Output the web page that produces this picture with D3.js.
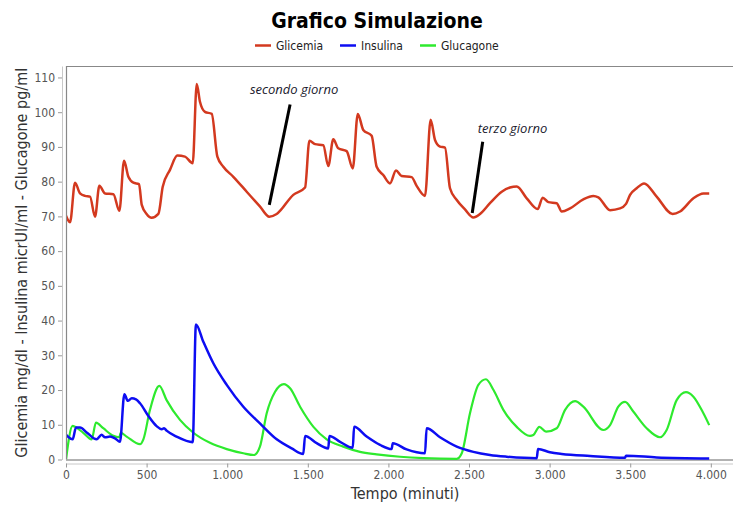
<!DOCTYPE html>
<html>
<head>
<meta charset="utf-8">
<script src="https://cdn.jsdelivr.net/npm/d3@7"></script>
<style>
  html, body { margin: 0; padding: 0; background: #fff; }
  svg { display: block; }
</style>
</head>
<body>
<div id="chart"></div>
<script>
// ---------------- DATA ----------------
const title = "Grafico Simulazione";
const seriesNames = ["Glicemia", "Insulina", "Glucagone"];
const xLabel = "Tempo (minuti)";
const yLabel = "Glicemia mg/dl - Insulina micrUI/ml - Glucagone pg/ml";
const xTicks = [0, 500, 1000, 1500, 2000, 2500, 3000, 3500, 4000];
const yTicks = [0, 10, 20, 30, 40, 50, 60, 70, 80, 90, 100, 110];

// Glicemia (mg/dl)
const glicemiaT = [0, 25, 56, 87, 118, 149, 180, 207, 242, 294, 331, 360, 387, 418, 453, 470, 500, 531, 573, 600, 645, 691, 738, 786, 811, 831, 862, 904, 939, 976, 1038, 1121, 1204, 1261, 1307, 1410, 1483, 1510, 1545, 1596, 1627, 1658, 1689, 1741, 1779, 1810, 1844, 1896, 1927, 1968, 2010, 2047, 2082, 2144, 2176, 2227, 2262, 2289, 2320, 2351, 2382, 2424, 2475, 2527, 2568, 2630, 2703, 2754, 2796, 2858, 2926, 2957, 2992, 3044, 3075, 3127, 3209, 3271, 3302, 3375, 3437, 3474, 3499, 3540, 3586, 3664, 3763, 3809, 3892, 3954, 3990];
const glicemiaV = [70.2, 68.3, 79.7, 76.6, 75.9, 75.7, 69.9, 78.8, 76.6, 76.4, 71.6, 86.0, 81.4, 79.7, 79.3, 73.3, 70.7, 69.6, 70.7, 78.5, 83.4, 87.5, 87.2, 85.3, 108.1, 103.0, 100.1, 99.5, 87.2, 84.3, 81.4, 77.1, 72.8, 69.9, 70.7, 76.2, 78.3, 91.8, 90.8, 90.5, 84.5, 92.2, 89.6, 88.8, 83.8, 99.5, 94.9, 93.2, 84.3, 81.9, 79.5, 83.2, 81.6, 81.3, 78.7, 75.9, 97.8, 92.0, 90.1, 89.8, 78.1, 74.7, 72.0, 69.7, 70.7, 73.8, 77.1, 78.3, 78.6, 75.2, 72.1, 75.4, 74.1, 73.8, 71.4, 72.3, 74.9, 75.9, 75.5, 71.8, 72.3, 73.6, 76.2, 78.1, 79.5, 75.7, 70.7, 71.4, 75.2, 76.6, 76.6];

// Insulina (microUI/ml)
const insulinaT = [0, 41, 62, 87, 128, 190, 221, 242, 273, 304, 335, 362, 383, 408, 434, 459, 511, 562, 594, 608, 624, 686, 786, 806, 852, 914, 997, 1100, 1203, 1307, 1400, 1472, 1483, 1555, 1627, 1634, 1700, 1779, 1787, 1865, 1948, 2020, 2027, 2113, 2227, 2237, 2320, 2424, 2527, 2630, 2734, 2920, 2928, 3002, 3075, 3251, 3468, 3474, 3664, 3990];
const insulinaV = [7.1, 5.8, 9.2, 9.2, 7.8, 5.8, 7.1, 6.4, 6.6, 6.1, 5.1, 18.8, 16.9, 17.6, 17.3, 16.2, 12.5, 9.6, 8.7, 9.0, 8.3, 6.6, 5.0, 38.9, 33.9, 27.7, 21.5, 15.2, 10.4, 5.8, 3.2, 1.6, 6.8, 4.7, 3.2, 6.8, 5.1, 3.4, 9.4, 6.6, 4.2, 3.0, 4.7, 2.9, 1.8, 9.0, 6.4, 3.7, 2.2, 1.3, 0.8, 0.35, 3.0, 2.1, 1.6, 1.0, 0.5, 1.1, 0.6, 0.3];

// Glucagone (pg/ml)
const glucagoneT = [0, 41, 56, 107, 159, 186, 231, 294, 331, 339, 376, 459, 480, 521, 579, 624, 707, 790, 893, 997, 1100, 1166, 1203, 1245, 1297, 1352, 1390, 1452, 1535, 1617, 1720, 1824, 1927, 2072, 2217, 2424, 2455, 2506, 2558, 2605, 2652, 2713, 2796, 2878, 2899, 2936, 2978, 3044, 3096, 3158, 3209, 3333, 3375, 3426, 3468, 3519, 3602, 3685, 3726, 3788, 3846, 3892, 3954, 3990];
const glucagoneV = [0.0, 9.7, 9.4, 7.7, 5.8, 10.6, 9.0, 6.8, 6.4, 7.7, 6.6, 4.4, 5.8, 14.3, 21.2, 17.1, 11.4, 7.7, 4.8, 3.0, 1.8, 1.3, 3.7, 13.3, 19.5, 21.7, 20.5, 15.2, 9.4, 5.8, 3.7, 2.2, 1.5, 0.8, 0.4, 0.2, 1.8, 13.3, 21.5, 23.1, 20.0, 14.3, 9.4, 6.8, 7.05, 9.4, 8.0, 9.0, 14.3, 16.8, 15.2, 8.5, 9.9, 15.2, 16.6, 13.8, 9.0, 6.4, 8.5, 17.1, 19.4, 18.1, 13.3, 9.9];

// annotations: text anchor [t, v] and pointer line [t1, v1, t2, v2] in data units
const annotationTexts = ["secondo giorno", "terzo giorno"];
const annotationAnchors = [[1141, 105.2, 1261, 73.3, 1390, 102.2], [2554, 94.0, 2520, 71.0, 2585, 91.5]];

// ---------------- LAYOUT ----------------
const W = 733, H = 505;
const plot = { left: 66, top: 66, right: 745, bottom: 459.5 };
const colors = ["#d3391f", "#0d0df2", "#2eea2e"];
const FONT = "'DejaVu Sans Condensed', 'DejaVu Sans', sans-serif";

const svg = d3.select("#chart").append("svg").attr("width", W).attr("height", H);

const x = d3.scaleLinear().domain([0, 4212]).range([plot.left, plot.right]);
const y = d3.scaleLinear().domain([0, 113.3]).range([plot.bottom, plot.top]);

const locale = d3.formatLocale({ decimal: ",", thousands: ".", grouping: [3], currency: ["€", ""] });
const fmt = locale.format(",d");

// title
svg.append("text")
  .attr("x", 377).attr("y", 28)
  .attr("text-anchor", "middle")
  .attr("font-family", FONT)
  .attr("font-weight", "bold")
  .attr("font-size", 21)
  .attr("fill", "#000")
  .text(title);

// legend
const legendItems = [
  { name: seriesNames[0], c: colors[0], x: 255 },
  { name: seriesNames[1], c: colors[1], x: 340 },
  { name: seriesNames[2], c: colors[2], x: 420 }
];
const lg = svg.append("g");
legendItems.forEach(d => {
  lg.append("line").attr("x1", d.x).attr("x2", d.x + 16).attr("y1", 45.5).attr("y2", 45.5)
    .attr("stroke", d.c).attr("stroke-width", 2.5);
  lg.append("text").attr("x", d.x + 21).attr("y", 50)
    .attr("font-family", FONT)
    .attr("font-size", 12).attr("fill", "#222").text(d.name);
});

// plot frame
svg.append("line").attr("x1", plot.left).attr("x2", W).attr("y1", plot.top + 0.5).attr("y2", plot.top + 0.5)
  .attr("stroke", "#888").attr("stroke-width", 1.2);
svg.append("line").attr("x1", plot.left + 0.5).attr("x2", plot.left + 0.5).attr("y1", plot.top).attr("y2", plot.bottom)
  .attr("stroke", "#888").attr("stroke-width", 1.2);
svg.append("line").attr("x1", plot.left).attr("x2", W).attr("y1", plot.bottom + 0.5).attr("y2", plot.bottom + 0.5)
  .attr("stroke", "#999").attr("stroke-width", 1.5);

// axes
const xAxis = d3.axisBottom(x).tickValues(xTicks).tickFormat(fmt).tickSizeInner(4).tickSizeOuter(0).tickPadding(3);
const gx = svg.append("g").attr("transform", `translate(0,${plot.bottom + 4})`).call(xAxis);
gx.select(".domain").attr("stroke", "#c8c8c8").attr("d", `M${plot.left},0.5H${W}`);
gx.selectAll(".tick line").attr("stroke", "#999");
gx.selectAll(".tick text").attr("fill", "#555").attr("font-size", 12).attr("font-family", FONT);

const yAxis = d3.axisLeft(y).tickValues(yTicks).tickFormat(fmt).tickSizeInner(4).tickSizeOuter(0).tickPadding(3);
const gy = svg.append("g").attr("transform", `translate(${plot.left - 4},0)`).call(yAxis);
gy.select(".domain").attr("stroke", "#c8c8c8");
gy.selectAll(".tick line").attr("stroke", "#999");
gy.selectAll(".tick text").attr("fill", "#555").attr("font-size", 12).attr("font-family", FONT);

// axis labels
svg.append("text")
  .attr("x", 405).attr("y", 499)
  .attr("text-anchor", "middle")
  .attr("font-family", FONT)
  .attr("font-size", 16).attr("fill", "#333").text(xLabel);
svg.append("text")
  .attr("transform", `translate(27,${(plot.top + plot.bottom) / 2}) rotate(-90)`)
  .attr("text-anchor", "middle")
  .attr("font-family", FONT)
  .attr("font-size", 16).attr("fill", "#333").text(yLabel);

// clip
svg.append("clipPath").attr("id", "clip").append("rect")
  .attr("x", plot.left + 1).attr("y", plot.top + 1).attr("width", plot.right - plot.left).attr("height", plot.bottom - plot.top);

const line = d3.line().x(d => x(d[0])).y(d => y(d[1])).curve(d3.curveMonotoneX);
const series = [
  d3.zip(glicemiaT, glicemiaV),
  d3.zip(insulinaT, insulinaV),
  d3.zip(glucagoneT, glucagoneV)
];
const widths = [2.5, 2.5, 2.2];
const gl = svg.append("g").attr("clip-path", "url(#clip)");
[2, 1, 0].forEach(i => {
  gl.append("path").datum(series[i]).attr("d", line)
    .attr("fill", "none").attr("stroke", colors[i]).attr("stroke-width", widths[i])
    .attr("stroke-linejoin", "round");
});

// annotations
annotationTexts.forEach((t, i) => {
  const a = annotationAnchors[i];
  svg.append("line")
    .attr("x1", x(a[2])).attr("y1", y(a[3])).attr("x2", x(a[4])).attr("y2", y(a[5]))
    .attr("stroke", "#000").attr("stroke-width", 3);
  svg.append("text").attr("x", x(a[0])).attr("y", y(a[1]))
    .attr("font-family", "'Open Sans', sans-serif").attr("font-style", "italic")
    .attr("font-size", 13).attr("fill", "#1a1a2e").text(t);
});
</script>
</body>
</html>
